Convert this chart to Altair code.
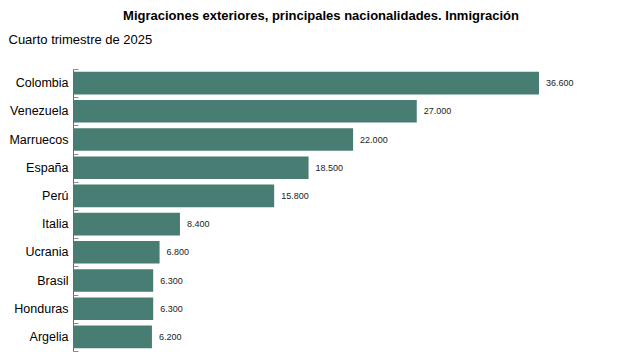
import altair as alt
import pandas as pd

paises = ["Colombia", "Venezuela", "Marruecos", "España", "Perú",
          "Italia", "Ucrania", "Brasil", "Honduras", "Argelia"]
valores = [36600, 27000, 22000, 18500, 15800, 8400, 6800, 6300, 6300, 6200]

titulo = "Migraciones exteriores, principales nacionalidades. Inmigración"
subtitulo = "Cuarto trimestre de 2025"

df = pd.DataFrame({"pais": paises, "valor": valores})

FONT = "Liberation Sans"
COLOR = "#477d73"
W = 466

xscale = alt.Scale(domain=[0, 36600], nice=False, zero=True)
yscale_bars = alt.Scale(paddingInner=0.2, paddingOuter=0.1)
yscale_text = alt.Scale(paddingInner=0, paddingOuter=0)

base = alt.Chart(df)

bars = base.mark_bar(color=COLOR).encode(
    x=alt.X("valor:Q", scale=xscale, axis=None),
    y=alt.Y(
        "pais:N",
        sort=paises,
        scale=yscale_bars,
        axis=alt.Axis(
            title=subtitulo,
            titleAngle=0,
            titleAlign="left",
            titleBaseline="alphabetic",
            titleX=-65,
            titleY=-26,
            titleFont=FONT,
            titleFontSize=13,
            titleFontWeight="normal",
            titleColor="#000000",
            labelFont=FONT,
            labelFontSize=12.5,
            labelColor="#000000",
            labelPadding=5,
            ticks=False,
            domainColor="#666666",
            domainWidth=1,
        ),
    ),
)

labels = base.transform_calculate(
    etiqueta="replace(format(datum.valor, ','), ',', '.')"
).mark_text(
    align="left", baseline="middle", dx=7, font=FONT, fontSize=9, color="#222222"
).encode(
    x=alt.X("valor:Q", scale=xscale, axis=None),
    y=alt.Y(
        "pais:N",
        sort=paises,
        scale=yscale_text,
        axis=alt.Axis(
            orient="right",
            offset=-W,
            domain=False,
            labels=False,
            ticks=True,
            tickSize=5,
            tickWidth=1,
            tickBand="extent",
            tickColor="#8c8c8c",
            zindex=1,
            title=None,
        ),
    ),
    text="etiqueta:N",
)

chart = alt.layer(bars, labels).resolve_scale(y="independent").properties(
    width=W,
    height=282,
    padding={"left": 65, "top": 61, "right": 60, "bottom": 8},
    autosize=alt.AutoSizeParams(type="none"),
    title=alt.TitleParams(
        text=titulo,
        anchor="middle",
        frame="group",
        font=FONT,
        fontSize=13,
        fontWeight="bold",
        color="#000000",
        dx=15,
        offset=10,
    ),
).configure_view(stroke=None)

chart.save("out.html", embed_options={"renderer": "svg", "actions": False})
